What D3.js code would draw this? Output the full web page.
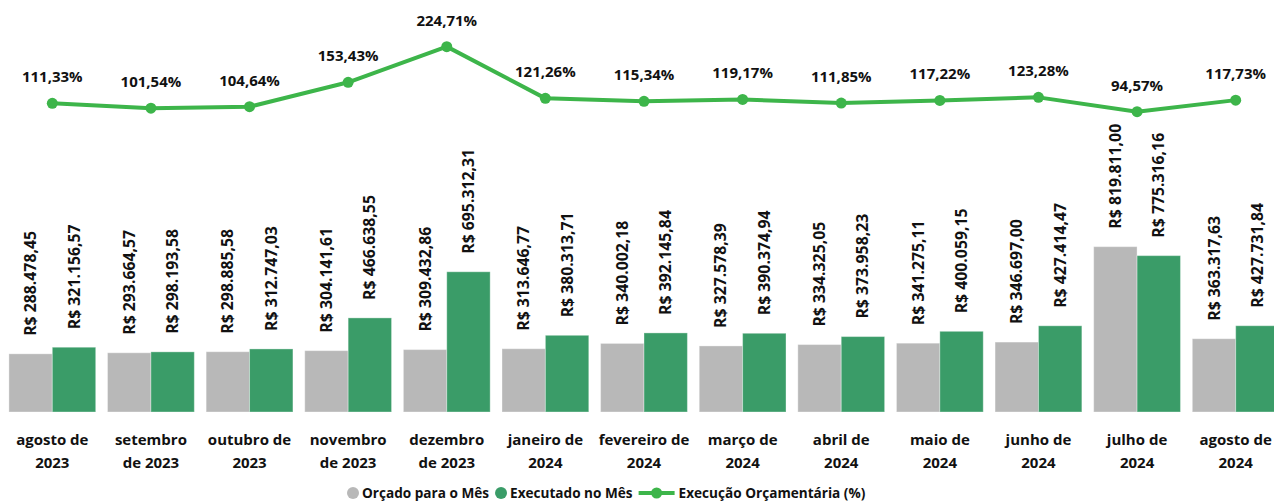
<!DOCTYPE html>
<html>
<head>
<meta charset="utf-8">
<script src="https://cdn.jsdelivr.net/npm/d3@7"></script>
<style>
  body { margin: 0; background: #fff; }
  svg text { font-family: "Segoe UI", "Open Sans", sans-serif; font-weight: bold; fill: #111; }
</style>
</head>
<body>
<div class="chart"></div>
<script>
const width = 1274;
const height = 501;

// categories (two lines each)
const months = [
    ["agosto de", "2023"], ["setembro", "de 2023"], ["outubro de", "2023"], ["novembro", "de 2023"],
    ["dezembro", "de 2023"], ["janeiro de", "2024"], ["fevereiro de", "2024"], ["março de", "2024"],
    ["abril de", "2024"], ["maio de", "2024"], ["junho de", "2024"], ["julho de", "2024"], ["agosto de", "2024"]
];
const orcado = [288478.45, 293664.57, 298885.58, 304141.61, 309432.86, 313646.77, 340002.18,
    327578.39, 334325.05, 341275.11, 346697.00, 819811.00, 363317.63];
const executado = [321156.57, 298193.58, 312747.03, 466638.55, 695312.31, 380313.71, 392145.84,
    390374.94, 373958.23, 400059.15, 427414.47, 775316.16, 427731.84];
const execucao = [111.33, 101.54, 104.64, 153.43, 224.71, 121.26, 115.34, 119.17, 111.85,
    117.22, 123.28, 94.57, 117.73];

const seriesNames = ["Orçado para o Mês", "Executado no Mês", "Execução Orçamentária (%)"];
const grayColor = "#b8b8b8";
const barGreen = "#3a9c68";
const lineGreen = "#3db54a";

const ptBR = d3.formatLocale({ decimal: ",", thousands: ".", grouping: [3], currency: ["R$ ", ""] });
const fmtMoney = ptBR.format("$,.2f");
const fmtPct = v => ptBR.format(".2f")(v) + "%";

const svg = d3.select(".chart").append("svg")
    .attr("width", width)
    .attr("height", height);

// Scales
const x = d3.scaleBand()
    .domain(d3.range(months.length))
    .range([3, 1285])
    .paddingInner(0.12)
    .paddingOuter(0.06);

const xSub = d3.scaleBand()
    .domain([0, 1])
    .range([0, x.bandwidth()]);

const yBar = d3.scaleLinear()
    .domain([0, 900000])
    .range([412, 230.5]);

const yPct = d3.scaleLinear()
    .domain([0, 250])
    .range([159, 34]);

// Bars
const barData = [orcado, executado];
const barColors = [grayColor, barGreen];

const groups = svg.append("g").selectAll("g")
    .data(months.map((m, i) => i))
    .join("g")
    .attr("transform", i => `translate(${x(i)},0)`);

groups.selectAll("rect")
    .data(i => barData.map((s, k) => ({ k: k, v: s[i] })))
    .join("rect")
    .attr("x", d => xSub(d.k))
    .attr("y", d => yBar(d.v))
    .attr("width", xSub.bandwidth())
    .attr("height", d => yBar(0) - yBar(d.v))
    .attr("fill", d => barColors[d.k])
    .attr("stroke", "#fff")
    .attr("stroke-opacity", 0.35)
    .attr("stroke-width", 1);

// Bar value labels (rotated)
groups.selectAll("text.bar-label")
    .data(i => barData.map((s, k) => ({ k: k, v: s[i] })))
    .join("text")
    .attr("class", "bar-label")
    .attr("transform", d => `translate(${xSub(d.k) + xSub.bandwidth() / 2},${yBar(d.v) - 18}) rotate(-90)`)
    .attr("dy", "0.35em")
    .style("font-size", "15.8px")
    .text(d => fmtMoney(d.v));

// X axis labels
const xLabels = svg.append("g").selectAll("text")
    .data(months)
    .join("text")
    .attr("text-anchor", "middle")
    .style("font-size", "15px");

xLabels.selectAll("tspan")
    .data((d, i) => d.map(t => ({ t: t, i: i })))
    .join("tspan")
    .attr("x", d => x(d.i) + x.bandwidth() / 2)
    .attr("y", (d, j) => 445 + j * 23)
    .text(d => d.t);

// Line
const line = d3.line()
    .x((d, i) => x(i) + x.bandwidth() / 2)
    .y(d => yPct(d));

svg.append("path")
    .datum(execucao)
    .attr("fill", "none")
    .attr("stroke", lineGreen)
    .attr("stroke-width", 4)
    .attr("stroke-linejoin", "round")
    .attr("d", line);

svg.append("g").selectAll("circle")
    .data(execucao)
    .join("circle")
    .attr("cx", (d, i) => x(i) + x.bandwidth() / 2)
    .attr("cy", d => yPct(d))
    .attr("r", 5.5)
    .attr("fill", lineGreen);

svg.append("g").selectAll("text")
    .data(execucao)
    .join("text")
    .attr("x", (d, i) => x(i) + x.bandwidth() / 2)
    .attr("y", d => yPct(d) - 21)
    .attr("text-anchor", "middle")
    .style("font-size", "15px")
    .style("paint-order", "stroke")
    .style("stroke", "#fff")
    .style("stroke-width", 4)
    .style("stroke-opacity", 0.8)
    .text(d => fmtPct(d));

// Legend
const legend = svg.append("g").attr("transform", "translate(347,493)");
let lx = 0;
seriesNames.forEach((name, k) => {
    if (k < 2) {
        legend.append("circle")
            .attr("cx", lx + 6).attr("cy", 0).attr("r", 6)
            .attr("fill", barColors[k]);
        lx += 15;
    } else {
        legend.append("line")
            .attr("x1", lx).attr("x2", lx + 36).attr("y1", 0).attr("y2", 0)
            .attr("stroke", lineGreen).attr("stroke-width", 4);
        legend.append("circle")
            .attr("cx", lx + 18).attr("cy", 0).attr("r", 5.5)
            .attr("fill", lineGreen);
        lx += 40;
    }
    const t = legend.append("text")
        .attr("x", lx).attr("y", 5)
        .style("font-size", "13.6px")
        .text(name);
    lx += t.node().getComputedTextLength() + 6;
});
</script>
</body>
</html>
